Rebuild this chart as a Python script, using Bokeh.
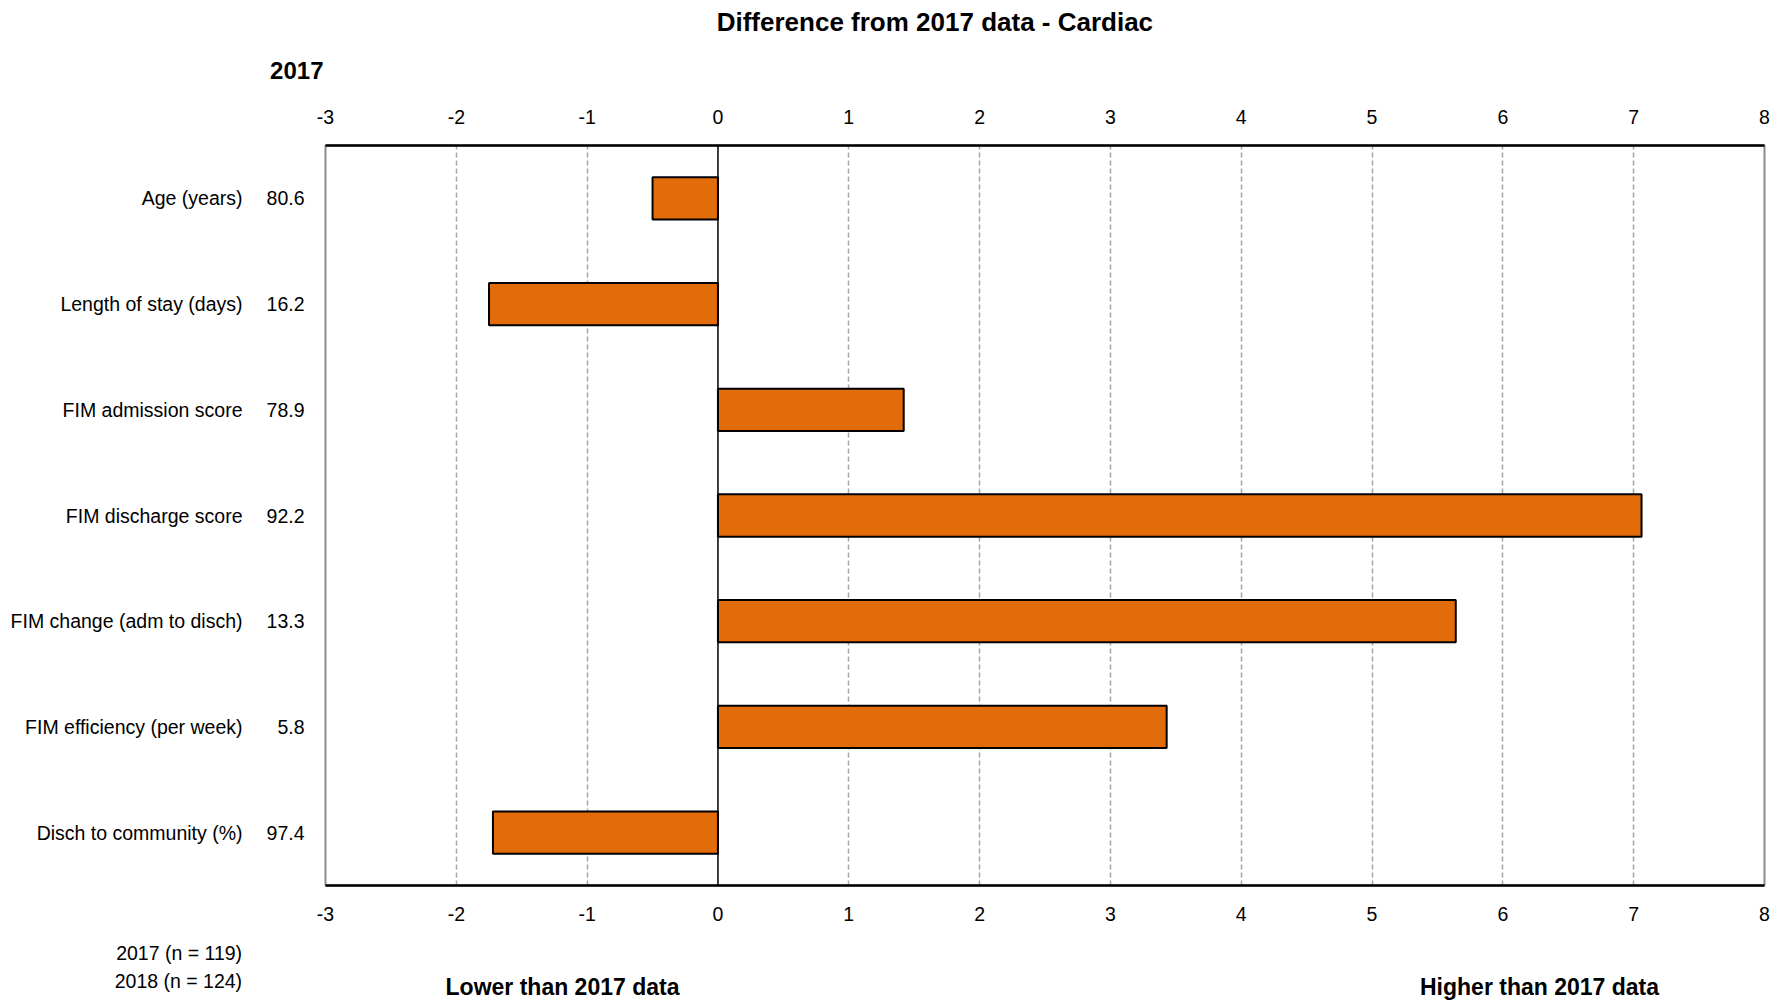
from bokeh.plotting import figure
from bokeh.layouts import column
from bokeh.models import ColumnDataSource, Range1d, LinearAxis, FixedTicker, Span
from bokeh.core.properties import value
from bokeh.embed import file_html
from bokeh.resources import INLINE

# ---- data ----
categories = ["Age (years)", "Length of stay (days)", "FIM admission score", "FIM discharge score",
              "FIM change (adm to disch)", "FIM efficiency (per week)", "Disch to community (%)"]
values_2017 = [80.6, 16.2, 78.9, 92.2, 13.3, 5.8, 97.4]
difference = [-0.50, -1.75, 1.42, 7.06, 5.64, 3.43, -1.72]
x_ticks = [-3, -2, -1, 0, 1, 2, 3, 4, 5, 6, 7, 8]
grid_ticks = [-2, -1, 1, 2, 3, 4, 5, 6, 7]
title_text = "Difference  from 2017 data - Cardiac"
column_header = "2017"
n_lines = ["2017  (n = 119)", "2018  (n = 124)"]
lower_text = "Lower than 2017 data"
higher_text = "Higher than 2017 data"

FONT = "Liberation Sans"
ORANGE = "#E36C0A"

W = 1785
H_TOP, H_MAIN, H_BOT = 95, 840, 67
FL, FR = 325, 1764          # frame left/right
FT, FB = 50, 790            # frame top/bottom inside main figure

n = len(categories)
ypos = [n - 0.5 - i for i in range(n)]   # category slots, first at top
src = ColumnDataSource(dict(y=ypos, diff=difference))


def text_fig(h):
    f = figure(width=W, height=h, output_backend="svg", toolbar_location=None,
               x_range=Range1d(FL, FR), y_range=Range1d(h, 0),
               x_axis_location=None, y_axis_location="left",
               min_border_left=FL, min_border_right=W - FR,
               min_border_top=0, min_border_bottom=0)
    f.outline_line_color = None
    f.grid.visible = False
    f.background_fill_color = "white"
    f.border_fill_color = "white"
    ax = f.yaxis[0]
    ax.axis_line_color = None
    ax.major_tick_out = 0
    ax.major_tick_in = 0
    ax.minor_tick_out = 0
    ax.minor_tick_in = 0
    ax.major_label_text_color = "black"
    ax.major_label_text_font = FONT
    return f


# ---- top text strip ----
top_f = text_fig(H_TOP)
top_f.text(x=[938], y=[21], text=[title_text], text_align="center", text_baseline="middle",
           text_font=value(FONT), text_font_size=value("26px"), text_font_style="bold", text_color="black")
hdr = top_f.yaxis[0]
hdr.ticker = FixedTicker(ticks=[70])
hdr.major_label_overrides = {70: column_header}
hdr.major_label_text_font_size = "24px"
hdr.major_label_text_font_style = "bold"
hdr.major_label_standoff = 2

# ---- main chart ----
p = figure(width=W, height=H_MAIN, output_backend="svg", toolbar_location=None,
           x_range=Range1d(-3, 8), y_range=Range1d(0, n),
           x_axis_location="below", y_axis_location="left",
           min_border_left=FL, min_border_right=W - FR,
           min_border_top=FT, min_border_bottom=H_MAIN - FB)
p.background_fill_color = "white"
p.border_fill_color = "white"
p.outline_line_color = "#8c8c8c"
p.outline_line_width = 2

p.ygrid.visible = False
p.xgrid.ticker = FixedTicker(ticks=grid_ticks)
p.xgrid.grid_line_color = "#a6a6a6"
p.xgrid.grid_line_dash = "5 3"
p.xgrid.grid_line_width = 1.5

p.hbar(y="y", left=0, right="diff", height=0.4, source=src,
       fill_color=ORANGE, line_color="black", line_width=2)
p.add_layout(Span(location=0, dimension="height", line_color="black", line_width=1.5))


def style_axis(ax, standoff, size="19.5px"):
    ax.major_label_text_font = FONT
    ax.major_label_text_font_size = size
    ax.major_label_text_color = "black"
    ax.major_tick_out = 0
    ax.major_tick_in = 0
    ax.minor_tick_out = 0
    ax.minor_tick_in = 0
    ax.major_label_standoff = standoff


x_over = {t: str(t) for t in x_ticks}
bottom = p.xaxis[0]
bottom.ticker = FixedTicker(ticks=x_ticks)
bottom.major_label_overrides = x_over
style_axis(bottom, 21)
bottom.axis_line_color = "black"
bottom.axis_line_width = 2.5

top = LinearAxis(ticker=FixedTicker(ticks=x_ticks), major_label_overrides=x_over)
style_axis(top, 22)
top.axis_line_color = "black"
top.axis_line_width = 2.5
p.add_layout(top, "above")

inner = p.yaxis[0]
inner.ticker = FixedTicker(ticks=ypos)
inner.major_label_overrides = {y: f"{v:.1f}" for y, v in zip(ypos, values_2017)}
style_axis(inner, 21)
inner.axis_line_color = None

outer = LinearAxis(ticker=FixedTicker(ticks=ypos),
                   major_label_overrides={y: c for y, c in zip(ypos, categories)})
style_axis(outer, 21)
outer.axis_line_color = None
p.add_layout(outer, "left")

# ---- bottom text strip ----
bot_f = text_fig(H_BOT)
nax = bot_f.yaxis[0]
nax.ticker = FixedTicker(ticks=[17, 45])
nax.major_label_overrides = {17: n_lines[0], 45: n_lines[1]}
nax.major_label_text_font_size = "19.5px"
nax.major_label_standoff = 78
bot_f.text(x=[562, 1539], y=[51, 51], text=[lower_text, higher_text], text_align="center",
           text_baseline="middle", text_font=value(FONT), text_font_size=value("23px"),
           text_font_style="bold", text_color="black")

layout = column(top_f, p, bot_f, spacing=0)
open("out.html", "w").write(file_html(layout, INLINE))
